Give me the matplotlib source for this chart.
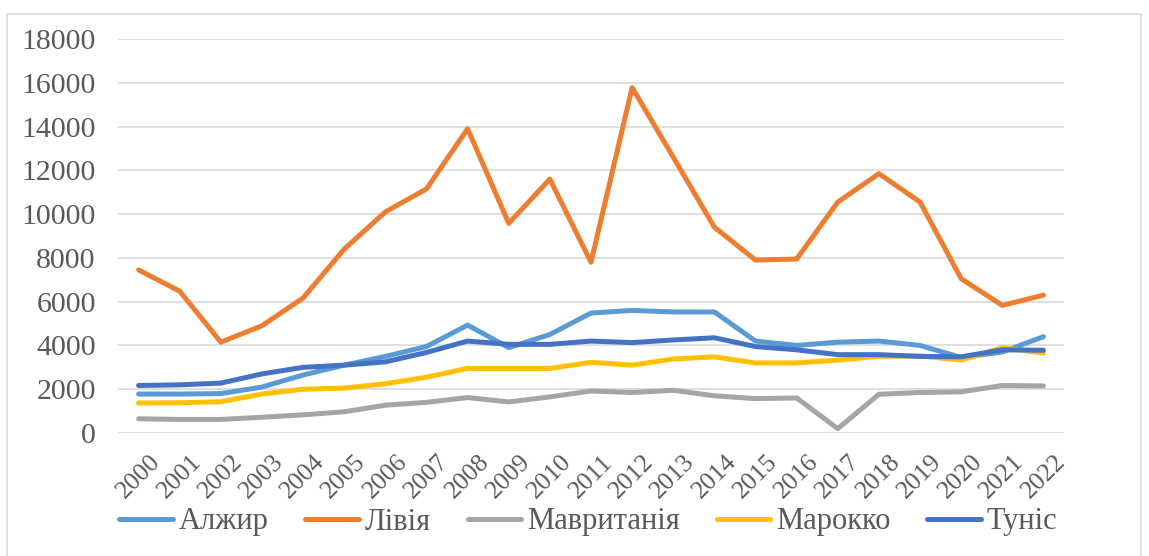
import matplotlib.pyplot as plt
from matplotlib.patches import Rectangle

years = [str(y) for y in range(2000, 2023)]

# values per country
algeria = [1780, 1780, 1800, 2100, 2650, 3100, 3500, 3950, 4930, 3900, 4500, 5480,
           5600, 5530, 5530, 4200, 4000, 4150, 4200, 4000, 3450, 3700, 4400]
libya = [7450, 6480, 4150, 4900, 6170, 8400, 10100, 11150, 13900, 9580, 11600, 7800,
         15780, 12600, 9400, 7900, 7950, 10550, 11850, 10550, 7050, 5830, 6300]
mauritania = [650, 620, 620, 720, 830, 970, 1270, 1400, 1620, 1420, 1650, 1920,
              1850, 1950, 1700, 1570, 1600, 200, 1770, 1850, 1880, 2170, 2150]
morocco = [1370, 1380, 1430, 1780, 2000, 2050, 2250, 2550, 2950, 2950, 2950, 3230,
           3100, 3380, 3480, 3200, 3200, 3330, 3500, 3520, 3330, 3900, 3650]
tunisia = [2170, 2200, 2280, 2700, 3000, 3100, 3250, 3680, 4200, 4050, 4050, 4200,
           4130, 4250, 4350, 3950, 3800, 3580, 3580, 3500, 3480, 3800, 3780]

series = [
    ('Алжир', algeria, '#5B9BD5'),
    ('Лівія', libya, '#ED7D31'),
    ('Мавританія', mauritania, '#A5A5A5'),
    ('Марокко', morocco, '#FFC000'),
    ('Туніс', tunisia, '#4472C4'),
]

plt.rcParams['font.family'] = ['Liberation Serif', 'DejaVu Serif']

fig = plt.figure(figsize=(11.49, 5.56), dpi=100)
# light frame around the chart
fig.patches.append(Rectangle((7 / 1149, -0.02), 1134 / 1149, 1 - 14 / 556 + 0.02,
                             transform=fig.transFigure, fill=False,
                             edgecolor='#d9d9d9', linewidth=1.2))

ax = fig.add_axes([118 / 1149, 1 - 433 / 556, 946 / 1149, 394 / 556])
x = range(len(years))
for name, vals, col in series:
    ax.plot(x, vals, color=col, linewidth=3.6, label=name, solid_capstyle='round')

ax.set_xlim(-0.5, len(years) - 0.5)
ax.set_ylim(0, 18000)
ax.set_yticks(range(0, 18001, 2000))
ax.set_xticks(list(x))
ax.set_xticklabels(years, rotation=45, ha='center')
ax.tick_params(axis='y', labelsize=21.5, colors='#595959', length=0, pad=16)
ax.tick_params(axis='x', labelsize=18.5, colors='#595959', length=0, pad=13)
ax.grid(axis='y', color='#d9d9d9', linewidth=1.2)
ax.set_axisbelow(True)
for s in ax.spines.values():
    s.set_visible(False)

fig.legend(loc='center', bbox_to_anchor=(0.512, 1 - 522 / 556), ncol=5, frameon=False,
           fontsize=22, handlelength=1.75, handletextpad=0.2, columnspacing=1.2,
           labelcolor='#595959')

fig.savefig('out.png', dpi=100)
